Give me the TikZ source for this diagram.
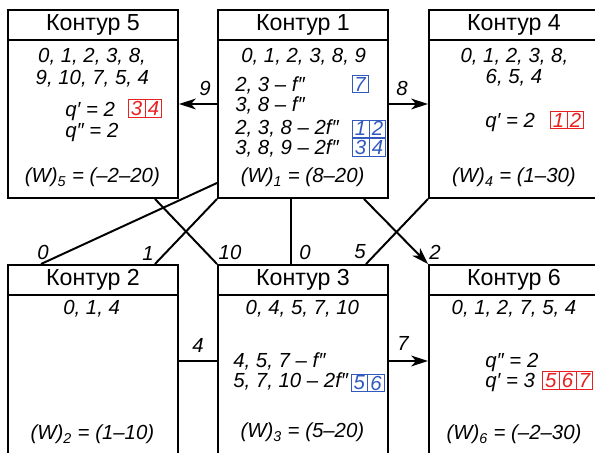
\documentclass[tikz,border=0pt]{standalone}
\usepackage{fontspec}
\setmainfont{Liberation Sans}
\usepackage{tikz}
\usetikzlibrary{backgrounds,shapes,arrows.meta}
\definecolor{kred}{RGB}{232,32,32}
\definecolor{kblue}{RGB}{50,90,190}
\newcommand{\headtxt}{\fontsize{16.5}{18}\selectfont}
\newcommand{\bodytxt}{\fontsize{14.5}{17}\selectfont\itshape}
\tikzstyle{contour}=[rectangle,draw=black,line width=1.4pt,minimum width=4.25cm,minimum height=4.7cm,inner sep=0pt]
\tikzstyle{head}=[rectangle,draw=black,line width=1.4pt,minimum width=4.25cm,minimum height=0.75cm,inner sep=0pt,anchor=north,font=\headtxt]
\tikzstyle{entry}=[inner sep=0pt,anchor=base,font=\bodytxt]
\tikzstyle{entryleft}=[inner sep=0pt,anchor=base west,font=\bodytxt]
\tikzstyle{numcells}=[rectangle split,rectangle split horizontal,line width=0.5pt,inner xsep=0.06cm,inner ysep=0.04cm,font=\bodytxt]
\tikzstyle{redcells}=[numcells,draw=kred,text=kred]
\tikzstyle{bluecells}=[numcells,draw=kblue,text=kblue]
\tikzstyle{edgenum}=[inner sep=0pt,font=\bodytxt]
\tikzstyle{link}=[-,line width=1.4pt]
\tikzstyle{flow}=[-{Stealth[length=0.42cm,width=0.27cm,inset=0.12cm]},line width=1.4pt]
\pgfdeclarelayer{edgelayer}
\pgfdeclarelayer{nodelayer}
\pgfsetlayers{edgelayer,nodelayer,main}

\begin{document}
\begin{tikzpicture}
	\useasboundingbox (0,0) rectangle (14.875,11.325);
	\begin{pgfonlayer}{nodelayer}
		% contour boxes with their headers
		\node [style=contour] (k5) at (2.325, 8.725) {};
		\node [style=contour] (k1) at (7.575, 8.725) {};
		\node [style=contour] (k4) at (12.85, 8.725) {};
		\node [style=contour, minimum height=4.8cm] (k2) at (2.325, 2.3) {};
		\node [style=contour, minimum height=4.8cm] (k3) at (7.575, 2.3) {};
		\node [style=contour, minimum height=4.8cm] (k6) at (12.85, 2.3) {};
		\node [style=head] (h5) at (k5.north) {Контур 5};
		\node [style=head] (h1) at (k1.north) {Контур 1};
		\node [style=head] (h4) at (k4.north) {Контур 4};
		\node [style=head] (h2) at (k2.north) {Контур 2};
		\node [style=head] (h3) at (k3.north) {Контур 3};
		\node [style=head] (h6) at (k6.north) {Контур 6};
		% contour 5
		\node [style=entry] (t5a) at (2.3, 9.77) {0, 1, 2, 3, 8,};
		\node [style=entry] (t5b) at (2.31, 9.22) {9, 10, 7, 5, 4};
		\node [style=entryleft] (t5c) at (1.625, 8.4) {q′ = 2};
		\node [style=entryleft] (t5d) at (1.625, 7.875) {q″ = 2};
		\node [style=redcells, rectangle split parts=2] (c5) at (3.625, 8.61) {3\nodepart{two}4};
		\node [style=entry] (w5) at (2.31, 6.75) {(W)\textsubscript{5} = (–2–20)};
		% contour 1
		\node [style=entry] (t1a) at (7.59, 9.77) {0, 1, 2, 3, 8, 9};
		\node [style=entryleft] (t1b) at (5.875, 9.025) {2, 3 – f″};
		\node [style=entryleft] (t1c) at (5.875, 8.525) {3, 8 – f″};
		\node [style=entryleft] (t1d) at (5.875, 7.95) {2, 3, 8 – 2f″};
		\node [style=entryleft] (t1e) at (5.875, 7.45) {3, 8, 9 – 2f″};
		\node [style=bluecells, rectangle split parts=1] (c1a) at (9.0, 9.225) {7};
		\node [style=bluecells, rectangle split parts=2] (c1b) at (9.225, 8.11) {1\nodepart{two}2};
		\node [style=bluecells, rectangle split parts=2] (c1c) at (9.225, 7.64) {3\nodepart{two}4};
		\node [style=entry] (w1) at (7.565, 6.75) {(W)\textsubscript{1} = (8–20)};
		% contour 4
		\node [style=entry] (t4a) at (12.86, 9.77) {0, 1, 2, 3, 8,};
		\node [style=entry] (t4b) at (12.85, 9.24) {6, 5, 4};
		\node [style=entryleft] (t4c) at (12.125, 8.125) {q′ = 2};
		\node [style=redcells, rectangle split parts=2] (c4) at (14.175, 8.325) {1\nodepart{two}2};
		\node [style=entry] (w4) at (12.85, 6.75) {(W)\textsubscript{4} = (1–30)};
		% contour 2
		\node [style=entry] (t2a) at (2.29, 3.45) {0, 1, 4};
		\node [style=entry] (w2) at (2.31, 0.325) {(W)\textsubscript{2} = (1–10)};
		% contour 3
		\node [style=entry] (t3a) at (7.56, 3.45) {0, 4, 5, 7, 10};
		\node [style=entryleft] (t3b) at (5.825, 2.125) {4, 5, 7 – f″};
		\node [style=entryleft] (t3c) at (5.825, 1.625) {5, 7, 10 – 2f″};
		\node [style=bluecells, rectangle split parts=2] (c3) at (9.19, 1.75) {5\nodepart{two}6};
		\node [style=entry] (w3) at (7.56, 0.375) {(W)\textsubscript{3} = (5–20)};
		% contour 6
		\node [style=entry] (t6a) at (12.85, 3.45) {0, 1, 2, 7, 5, 4};
		\node [style=entryleft] (t6b) at (12.125, 2.125) {q″ = 2};
		\node [style=entryleft] (t6c) at (12.125, 1.625) {q′ = 3};
		\node [style=redcells, rectangle split parts=3] (c6) at (14.19, 1.81) {5\nodepart{two}6\nodepart{three}7};
		\node [style=entry] (w6) at (12.85, 0.325) {(W)\textsubscript{6} = (–2–30)};
		% numbers on the links
		\node [style=edgenum] (n9) at (5.125, 9.125) {9};
		\node [style=edgenum] (n8) at (10.05, 9.125) {8};
		\node [style=edgenum] (n4) at (4.95, 2.7) {4};
		\node [style=edgenum] (n7) at (10.075, 2.75) {7};
		\node [style=edgenum] (n0a) at (1.075, 5.025) {0};
		\node [style=edgenum] (n1) at (3.7, 5.0) {1};
		\node [style=edgenum] (n10) at (5.75, 5.025) {10};
		\node [style=edgenum] (n0b) at (7.625, 5.025) {0};
		\node [style=edgenum] (n5) at (9.0, 5.025) {5};
		\node [style=edgenum] (n2) at (10.875, 5.025) {2};
	\end{pgfonlayer}
	\begin{pgfonlayer}{edgelayer}
		\draw [style=flow] (k1.west) to (k5.east);
		\draw [style=flow] (k1.east) to (k4.west);
		\draw [style=link] (k2.east) to (k3.west);
		\draw [style=flow] (k3.east) to (k6.west);
		\draw [style=link] ([xshift=0.85cm]k2.north west) to ([yshift=0.4cm]k1.south west);
		\draw [style=link] ([xshift=-0.6cm]k2.north east) to (k1.south west);
		\draw [style=link] ([xshift=-0.6cm]k5.south east) to (k3.north west);
		\draw [style=link] ([xshift=-0.3cm]k1.south) to ([xshift=-0.3cm]k3.north);
		\draw [style=flow] ([xshift=-0.625cm]k1.south east) to (k6.north west);
		\draw [style=link] (k4.south west) to ([xshift=-0.575cm]k3.north east);
	\end{pgfonlayer}
\end{tikzpicture}
\end{document}
